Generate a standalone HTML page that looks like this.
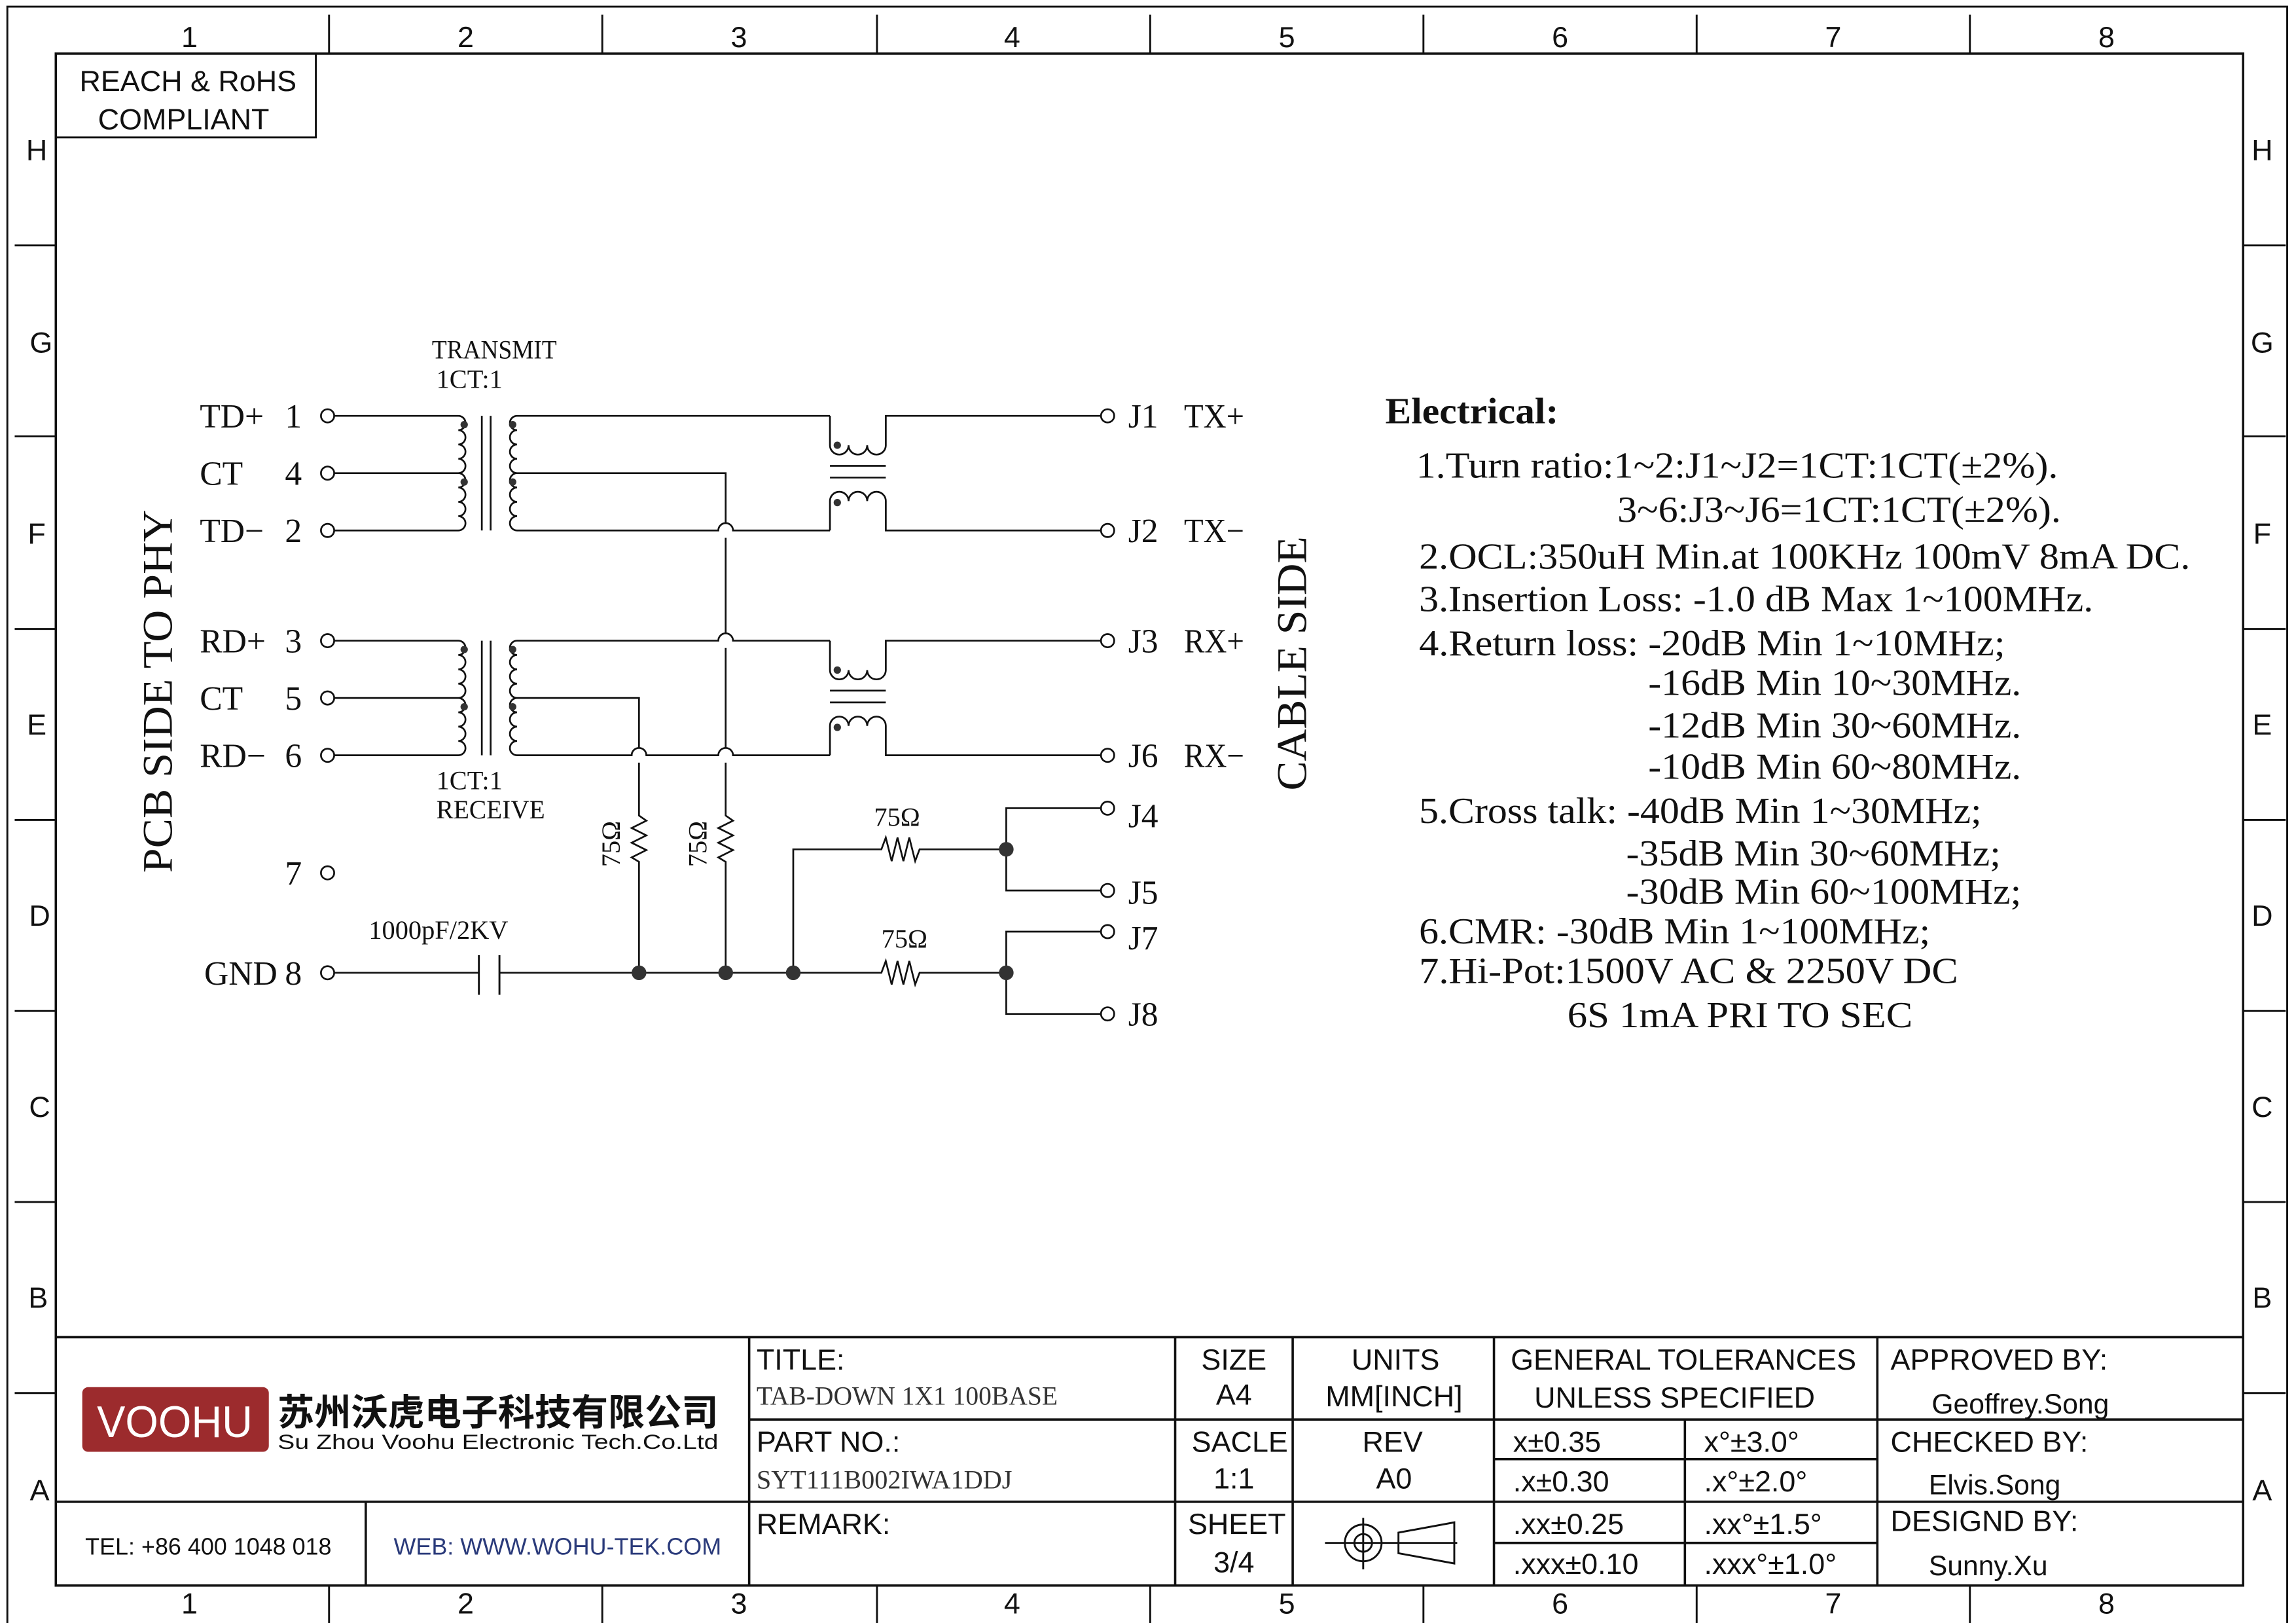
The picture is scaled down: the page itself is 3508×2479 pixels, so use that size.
<!DOCTYPE html>
<html><head><meta charset="utf-8"><style>
html,body{margin:0;padding:0;background:#fff;}
svg{display:block;}
.s{font-family:"Liberation Serif",serif;}
.a{font-family:"Liberation Sans",sans-serif;}
</style></head><body>
<svg width="3508" height="2479" viewBox="0 0 1563 1104.5" preserveAspectRatio="none" xmlns="http://www.w3.org/2000/svg">
<rect x="0" y="0" width="1563" height="1104.5" fill="#fff"/>
<g fill="none" stroke="#111" stroke-width="1.3">
<rect x="5" y="4.5" width="1552" height="1101"/>
<rect x="38" y="36.5" width="1489" height="1042.5" stroke-width="1.6"/>
<path d="M224 10V36.5M410 10V36.5M597 10V36.5M783 10V36.5M969 10V36.5M1155 10V36.5M1341 10V36.5M224 1079V1105M410 1079V1105M597 1079V1105M783 1079V1105M969 1079V1105M1155 1079V1105M1341 1079V1105"/>
<path d="M10 167H38M10 297H38M10 428H38M10 558H38M10 688H38M10 818H38M10 948H38M1527 167H1556M1527 297H1556M1527 428H1556M1527 558H1556M1527 688H1556M1527 818H1556M1527 948H1556"/>
<rect x="38" y="36.5" width="177" height="57"/>
<path d="M38 910H1527M510 966H1527M38 1022H1527M510 910V1079M800 910V1079M880 910V1079M1017 910V1079M1278 910V1079M249 1022V1079M1147 966V1079M1017 993H1278M1017 1050H1278" stroke-width="1.6"/>
<circle cx="928" cy="1050" r="12.5"/><circle cx="928" cy="1050" r="6"/>
<path d="M902 1050H992M928 1033V1068M952 1043L990 1036V1064L952 1057Z"/>
</g>
<g class="a" font-size="20" fill="#111" text-anchor="middle">
<text x="129" y="32">1</text><text x="317" y="32">2</text><text x="503" y="32">3</text><text x="689" y="32">4</text><text x="876" y="32">5</text><text x="1062" y="32">6</text><text x="1248" y="32">7</text><text x="1434" y="32">8</text>
<text x="129" y="1098">1</text><text x="317" y="1098">2</text><text x="503" y="1098">3</text><text x="689" y="1098">4</text><text x="876" y="1098">5</text><text x="1062" y="1098">6</text><text x="1248" y="1098">7</text><text x="1434" y="1098">8</text>
<text x="25" y="109">H</text><text x="28" y="240">G</text><text x="25" y="370">F</text><text x="25" y="500">E</text><text x="27" y="630">D</text><text x="27" y="760">C</text><text x="26" y="890">B</text><text x="27" y="1021">A</text>
<text x="1540" y="109">H</text><text x="1540" y="240">G</text><text x="1540" y="370">F</text><text x="1540" y="500">E</text><text x="1540" y="630">D</text><text x="1540" y="760">C</text><text x="1540" y="890">B</text><text x="1540" y="1021">A</text>
<text x="128" y="62">REACH &amp; RoHS</text><text x="125" y="88">COMPLIANT</text>
</g>
<g class="a" font-size="20" fill="#111">
<text x="515" y="932">TITLE:</text>
<text x="515" y="988">PART NO.:</text>
<text x="515" y="1044">REMARK:</text>
<text x="840" y="932" text-anchor="middle">SIZE</text><text x="840" y="956" text-anchor="middle">A4</text>
<text x="844" y="988" text-anchor="middle">SACLE</text><text x="840" y="1013" text-anchor="middle">1:1</text>
<text x="842" y="1044" text-anchor="middle">SHEET</text><text x="840" y="1070" text-anchor="middle">3/4</text>
<text x="950" y="932" text-anchor="middle">UNITS</text><text x="949" y="957" text-anchor="middle">MM[INCH]</text>
<text x="948" y="988" text-anchor="middle">REV</text><text x="949" y="1013" text-anchor="middle">A0</text>
<text x="1146" y="932" text-anchor="middle">GENERAL TOLERANCES</text><text x="1140" y="958" text-anchor="middle">UNLESS SPECIFIED</text>
<text x="1030" y="988">x±0.35</text><text x="1030" y="1015">.x±0.30</text><text x="1030" y="1044">.xx±0.25</text><text x="1030" y="1071">.xxx±0.10</text>
<text x="1160" y="988">x°±3.0°</text><text x="1160" y="1015">.x°±2.0°</text><text x="1160" y="1044">.xx°±1.5°</text><text x="1160" y="1071">.xxx°±1.0°</text>
<text x="1287" y="932">APPROVED BY:</text><text x="1287" y="988">CHECKED BY:</text><text x="1287" y="1042">DESIGND BY:</text>
<text x="1315" y="962" font-size="19">Geoffrey.Song</text><text x="1313" y="1017" font-size="19">Elvis.Song</text><text x="1313" y="1072" font-size="19">Sunny.Xu</text>
<text x="58" y="1058" font-size="16">TEL: +86 400 1048 018</text>
<text x="268" y="1058" font-size="16" fill="#2a3a7a">WEB: WWW.WOHU-TEK.COM</text>
</g>
<g class="s" font-size="18" fill="#333">
<text x="515" y="956" textLength="205" lengthAdjust="spacingAndGlyphs">TAB-DOWN 1X1 100BASE</text>
<text x="515" y="1013" textLength="174" lengthAdjust="spacingAndGlyphs">SYT111B002IWA1DDJ</text>
</g>
<rect x="56" y="944" width="127" height="44" rx="4" fill="#9c2b2d"/>
<text x="119" y="978" class="a" font-size="30" fill="#fff" text-anchor="middle" textLength="106" lengthAdjust="spacingAndGlyphs">VOOHU</text>
<text x="189" y="970" font-family="'Liberation Sans','Noto Sans CJK SC',sans-serif" font-weight="bold" font-size="25" fill="#111" textLength="300" lengthAdjust="spacingAndGlyphs">苏州沃虎电子科技有限公司</text>
<text x="189" y="986" class="a" font-size="14" fill="#111" textLength="300" lengthAdjust="spacingAndGlyphs">Su Zhou Voohu Electronic Tech.Co.Ltd</text>

<g fill="none" stroke="#111" stroke-width="1.2">
<path d="M227 283H312a4.875 4.875 0 0 1 0 9.75a4.875 4.875 0 0 1 0 9.75a4.875 4.875 0 0 1 0 9.75a4.875 4.875 0 0 1 0 9.75a4.875 4.875 0 0 1 0 9.75a4.875 4.875 0 0 1 0 9.75a4.875 4.875 0 0 1 0 9.75a4.875 4.875 0 0 1 0 9.75H227M227 322H312"/>
<path d="M328 283V361M334 283V361"/>
<path d="M565 283H352a4.875 4.875 0 0 0 0 9.75a4.875 4.875 0 0 0 0 9.75a4.875 4.875 0 0 0 0 9.75a4.875 4.875 0 0 0 0 9.75a4.875 4.875 0 0 0 0 9.75a4.875 4.875 0 0 0 0 9.75a4.875 4.875 0 0 0 0 9.75a4.875 4.875 0 0 0 0 9.75H489a5 5 0 0 1 10 0H565M352 322H494V356"/>
<path d="M227 436H312a4.875 4.875 0 0 1 0 9.75a4.875 4.875 0 0 1 0 9.75a4.875 4.875 0 0 1 0 9.75a4.875 4.875 0 0 1 0 9.75a4.875 4.875 0 0 1 0 9.75a4.875 4.875 0 0 1 0 9.75a4.875 4.875 0 0 1 0 9.75a4.875 4.875 0 0 1 0 9.75H227M227 475H312"/>
<path d="M328 436V514M334 436V514"/>
<path d="M565 436H499a5 5 0 0 0 -10 0H352a4.875 4.875 0 0 0 0 9.75a4.875 4.875 0 0 0 0 9.75a4.875 4.875 0 0 0 0 9.75a4.875 4.875 0 0 0 0 9.75a4.875 4.875 0 0 0 0 9.75a4.875 4.875 0 0 0 0 9.75a4.875 4.875 0 0 0 0 9.75a4.875 4.875 0 0 0 0 9.75H430a5 5 0 0 1 10 0H489a5 5 0 0 1 10 0H565M352 475H435V509"/>
<path d="M494 366V431M494 441V509"/>
<path d="M565 283V303a6.33 6.33 0 0 0 12.67 0a6.33 6.33 0 0 0 12.67 0a6.33 6.33 0 0 0 12.67 0V283H753"/>
<path d="M565 361V341a6.33 6.33 0 0 1 12.67 0a6.33 6.33 0 0 1 12.67 0a6.33 6.33 0 0 1 12.67 0V361H753"/>
<path d="M565 317H603M565 325H603"/>
<path d="M565 436V456a6.33 6.33 0 0 0 12.67 0a6.33 6.33 0 0 0 12.67 0a6.33 6.33 0 0 0 12.67 0V436H753"/>
<path d="M565 514V494a6.33 6.33 0 0 1 12.67 0a6.33 6.33 0 0 1 12.67 0a6.33 6.33 0 0 1 12.67 0V514H753"/>
<path d="M565 470H603M565 478H603"/>
<path d="M435 519V555l5 3.5-10 5 10 5-10 5 10 5-10 5 5 3V662"/>
<path d="M494 519V555l5 3.5-10 5 10 5-10 5 10 5-10 5 5 3V662"/>
<path d="M540 662V578H600l3 -8 4 16 4-16 4 16 4-16 4 16 3-8H685"/>
<path d="M227 662H326M340 662H600l3 -8 4 16 4-16 4 16 4-16 4 16 3-8H685"/>
<path d="M326 650V677M340 650V677" stroke-width="1.3"/>
<path d="M753 550H685V606H753M753 634H685V690H753"/>
</g>
<g fill="#fff" stroke="#111" stroke-width="1.2">
<circle cx="223" cy="283" r="4.5"/><circle cx="223" cy="322" r="4.5"/><circle cx="223" cy="361" r="4.5"/>
<circle cx="223" cy="436" r="4.5"/><circle cx="223" cy="475" r="4.5"/><circle cx="223" cy="514" r="4.5"/>
<circle cx="223" cy="594" r="4.5"/><circle cx="223" cy="662" r="4.5"/>
<circle cx="754" cy="283" r="4.5"/><circle cx="754" cy="361" r="4.5"/><circle cx="754" cy="436" r="4.5"/><circle cx="754" cy="514" r="4.5"/>
<circle cx="754" cy="550" r="4.5"/><circle cx="754" cy="606" r="4.5"/><circle cx="754" cy="634" r="4.5"/><circle cx="754" cy="690" r="4.5"/>
</g>
<g fill="#333">
<circle cx="435" cy="662" r="5"/><circle cx="494" cy="662" r="5"/><circle cx="540" cy="662" r="5"/><circle cx="685" cy="578" r="5"/><circle cx="685" cy="662" r="5"/>
<circle cx="316" cy="289" r="2.5"/><circle cx="316" cy="328" r="2.5"/><circle cx="349" cy="289" r="2.5"/><circle cx="349" cy="328" r="2.5"/>
<circle cx="316" cy="442" r="2.5"/><circle cx="316" cy="481" r="2.5"/><circle cx="349" cy="442" r="2.5"/><circle cx="349" cy="481" r="2.5"/>
<circle cx="570" cy="303" r="2.5"/><circle cx="570" cy="342" r="2.5"/><circle cx="570" cy="456" r="2.5"/><circle cx="570" cy="495" r="2.5"/>
</g>
<g class="s" font-size="23" fill="#111">
<text x="136" y="291">TD+</text><text x="194" y="291">1</text>
<text x="136" y="330">CT</text><text x="194" y="330">4</text>
<text x="136" y="369">TD−</text><text x="194" y="369">2</text>
<text x="136" y="444">RD+</text><text x="194" y="444">3</text>
<text x="136" y="483">CT</text><text x="194" y="483">5</text>
<text x="136" y="522">RD−</text><text x="194" y="522">6</text>
<text x="194" y="602">7</text>
<text x="139" y="670">GND</text><text x="194" y="670">8</text>
<text x="768" y="291">J1</text><text x="806" y="291" textLength="41" lengthAdjust="spacingAndGlyphs">TX+</text>
<text x="768" y="369">J2</text><text x="806" y="369" textLength="41" lengthAdjust="spacingAndGlyphs">TX−</text>
<text x="768" y="444">J3</text><text x="806" y="444" textLength="41" lengthAdjust="spacingAndGlyphs">RX+</text>
<text x="768" y="522">J6</text><text x="806" y="522" textLength="41" lengthAdjust="spacingAndGlyphs">RX−</text>
<text x="768" y="563">J4</text><text x="768" y="615">J5</text><text x="768" y="646">J7</text><text x="768" y="698">J8</text>
</g>
<g class="s" font-size="18" fill="#111">
<text x="294" y="244" textLength="85" lengthAdjust="spacingAndGlyphs">TRANSMIT</text>
<text x="297" y="264">1CT:1</text>
<text x="297" y="537">1CT:1</text>
<text x="297" y="557" textLength="74" lengthAdjust="spacingAndGlyphs">RECEIVE</text>
<text x="595" y="562">75Ω</text><text x="600" y="645">75Ω</text>
<text x="251" y="639">1000pF/2KV</text>
<text transform="translate(422,590) rotate(-90)">75Ω</text>
<text transform="translate(481,590) rotate(-90)">75Ω</text>
</g>
<g class="s" font-size="29" fill="#111">
<text transform="translate(117,594) rotate(-90)" textLength="247" lengthAdjust="spacingAndGlyphs">PCB SIDE TO PHY</text>
<text transform="translate(889,538) rotate(-90)" textLength="173" lengthAdjust="spacingAndGlyphs">CABLE SIDE</text>
</g>
<g class="s" font-size="25" fill="#111" lengthAdjust="spacingAndGlyphs">
<text x="943" y="288" font-weight="bold" textLength="118" lengthAdjust="spacingAndGlyphs">Electrical:</text>
<text x="964" y="325" textLength="437" lengthAdjust="spacingAndGlyphs">1.Turn ratio:1~2:J1~J2=1CT:1CT(±2%).</text>
<text x="1101" y="355" textLength="302" lengthAdjust="spacingAndGlyphs">3~6:J3~J6=1CT:1CT(±2%).</text>
<text x="966" y="387" textLength="525" lengthAdjust="spacingAndGlyphs">2.OCL:350uH Min.at 100KHz 100mV 8mA DC.</text>
<text x="966" y="416" textLength="459" lengthAdjust="spacingAndGlyphs">3.Insertion Loss: -1.0 dB Max 1~100MHz.</text>
<text x="966" y="446" textLength="399" lengthAdjust="spacingAndGlyphs">4.Return loss: -20dB Min 1~10MHz;</text>
<text x="1122" y="473" textLength="254" lengthAdjust="spacingAndGlyphs">-16dB Min 10~30MHz.</text>
<text x="1122" y="502" textLength="254" lengthAdjust="spacingAndGlyphs">-12dB Min 30~60MHz.</text>
<text x="1122" y="530" textLength="254" lengthAdjust="spacingAndGlyphs">-10dB Min 60~80MHz.</text>
<text x="966" y="560" textLength="383" lengthAdjust="spacingAndGlyphs">5.Cross talk: -40dB Min 1~30MHz;</text>
<text x="1107" y="589" textLength="255" lengthAdjust="spacingAndGlyphs">-35dB Min 30~60MHz;</text>
<text x="1107" y="615" textLength="269" lengthAdjust="spacingAndGlyphs">-30dB Min 60~100MHz;</text>
<text x="966" y="642" textLength="348" lengthAdjust="spacingAndGlyphs">6.CMR: -30dB Min 1~100MHz;</text>
<text x="966" y="669" textLength="367" lengthAdjust="spacingAndGlyphs">7.Hi-Pot:1500V AC &amp; 2250V DC</text>
<text x="1067" y="699" textLength="235" lengthAdjust="spacingAndGlyphs">6S 1mA PRI TO SEC</text>
</g>
</svg>
</body></html>
